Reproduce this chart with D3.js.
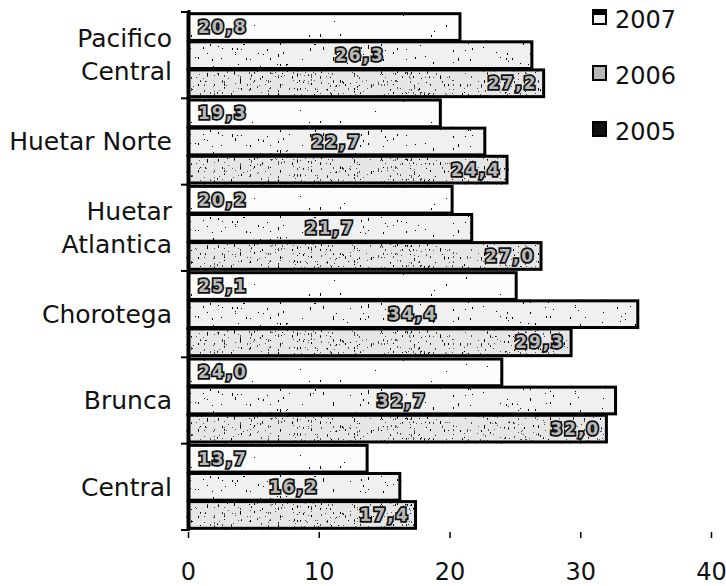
<!DOCTYPE html>
<html>
<head>
<meta charset="utf-8">
<script src="https://cdn.jsdelivr.net/npm/d3@7"></script>
<style>
  body { margin: 0; background: #fff; }
  svg { display: block; font-family: "DejaVu Sans", sans-serif; }
</style>
</head>
<body>
<div class="container"></div>
<script>
// data
const regions = ['Pacifico Central', 'Huetar Norte', 'Huetar Atlantica', 'Chorotega', 'Brunca', 'Central'];
const regionLines = [['Pacifico', 'Central'], ['Huetar Norte'], ['Huetar', 'Atlantica'], ['Chorotega'], ['Brunca'], ['Central']];
const years = ['2007', '2006', '2005'];
const values2007 = [20.8, 19.3, 20.2, 25.1, 24.0, 13.7];
const values2006 = [26.3, 22.7, 21.7, 34.4, 32.7, 16.2];
const values2005 = [27.2, 24.4, 27.0, 29.3, 32.0, 17.4];
const xTicks = [0, 10, 20, 30, 40];

const series = { '2007': values2007, '2006': values2006, '2005': values2005 };

const W = 726, H = 586;
const plotTop = 12, plotBottom = 530;

const svg = d3.select('.container')
              .append('svg')
              .attr('width', W)
              .attr('height', H);

const defs = svg.append('defs');

// scanned look: sparse black specks inside each bar
const grain = { '2007': ['0.55 0.18', '0 0 0 0 0 0 0 0 0 0 0 0 0 1'],
                '2006': ['0.6 0.2', '0 0 0 0 0 0 0 0 0 0 0 0 1 1'],
                '2005': ['0.7 0.25', '0 0 0 0 0 0 0 0 0 0.9 1 1'] };
const fills = { '2007': '#fcfcfc', '2006': '#f0f0f0', '2005': '#e6e6e6' };

years.forEach((y, i) => {
  const f = defs.append('filter')
                .attr('id', 'grain' + y)
                .attr('x', '-5%').attr('y', '-20%')
                .attr('width', '110%').attr('height', '140%');
  f.append('feTurbulence')
   .attr('type', 'fractalNoise')
   .attr('baseFrequency', grain[y][0])
   .attr('numOctaves', 2)
   .attr('seed', 3 + i * 7)
   .attr('result', 'n');
  f.append('feColorMatrix')
   .attr('in', 'n')
   .attr('type', 'matrix')
   .attr('values', '0 0 0 0 0  0 0 0 0 0  0 0 0 0 0  1.6 0 0 0 -0.35')
   .attr('result', 'a');
  f.append('feComponentTransfer')
   .attr('in', 'a')
   .attr('result', 's')
   .append('feFuncA')
   .attr('type', 'discrete')
   .attr('tableValues', grain[y][1]);
  f.append('feComposite')
   .attr('in', 's')
   .attr('in2', 'SourceGraphic')
   .attr('operator', 'in')
   .attr('result', 'c');
  const m = f.append('feMerge');
  m.append('feMergeNode').attr('in', 'SourceGraphic');
  m.append('feMergeNode').attr('in', 'c');
});

//Scales
const xScale = d3.scaleLinear()
                 .domain([0, 40])
                 .range([188, 711]);

const yScale = d3.scaleBand()
                 .domain(regions)
                 .range([plotTop, plotBottom])
                 .padding(0);

const ySub = d3.scaleBand()
               .domain(years)
               .range([0, yScale.bandwidth()])
               .paddingInner(0.05)
               .paddingOuter(0.06);

//Bars
const groups = svg.append('g')
                  .selectAll('g')
                  .data(regions)
                  .enter()
                  .append('g')
                  .attr('transform', d => `translate(0,${yScale(d)})`);

const cells = groups.selectAll('g')
                    .data((d, i) => years.map(y => ({ year: y, value: series[y][i] })))
                    .enter()
                    .append('g');

cells.append('rect')
     .attr('x', xScale(0))
     .attr('y', d => ySub(d.year))
     .attr('width', d => xScale(d.value) - xScale(0))
     .attr('height', ySub.bandwidth())
     .attr('fill', d => fills[d.year])
     .attr('stroke', '#000')
     .attr('stroke-width', 3)
     .attr('filter', d => `url(#grain${d.year})`);

//Value labels: 2007 at start, 2006 in the middle, 2005 at the end
const fmt = v => d3.format('.1f')(v).replace('.', ',');
cells.append('text')
     .attr('x', d => d.year === '2007' ? xScale(0) + 10
                   : d.year === '2006' ? (xScale(0) + xScale(d.value)) / 2
                   : xScale(d.value) - 6)
     .attr('y', d => ySub(d.year) + ySub.bandwidth() / 2)
     .attr('dy', '0.36em')
     .attr('text-anchor', d => d.year === '2007' ? 'start' : d.year === '2006' ? 'middle' : 'end')
     .attr('font-size', 17)
     .attr('font-weight', 'bold')
     .attr('letter-spacing', 2)
     .attr('fill', '#b8b8b8')
     .attr('stroke', '#111')
     .attr('stroke-width', 3.5)
     .attr('paint-order', 'stroke')
     .text(d => fmt(d.value));

//Left axis
svg.append('line')
   .attr('x1', 189).attr('x2', 189)
   .attr('y1', plotTop - 2).attr('y2', plotBottom)
   .attr('stroke', '#000')
   .attr('stroke-width', 3);

svg.append('g')
   .selectAll('line')
   .data(regions.concat(['end']))
   .enter()
   .append('line')
   .attr('x1', 181).attr('x2', 190)
   .attr('y1', d => d === 'end' ? plotBottom : yScale(d))
   .attr('y2', d => d === 'end' ? plotBottom : yScale(d))
   .attr('stroke', '#000')
   .attr('stroke-width', 2);

//Category labels
const catLabels = svg.append('g')
                     .selectAll('text')
                     .data(regions)
                     .enter()
                     .append('text')
                     .attr('x', 172)
                     .attr('y', d => yScale(d) + yScale.bandwidth() / 2)
                     .attr('text-anchor', 'end')
                     .attr('font-size', 25)
                     .attr('fill', '#111');

catLabels.each(function(d, i) {
  const lines = regionLines[i];
  const t = d3.select(this);
  lines.forEach((l, j) => {
    t.append('tspan')
     .attr('x', 172)
     .attr('dy', j === 0 ? (lines.length === 1 ? '0.35em' : '-0.32em') : '1.32em')
     .text(l);
  });
});

//Bottom axis: ticks and labels only
const xAxis = d3.axisBottom(xScale)
                .tickValues(xTicks)
                .tickSize(6)
                .tickPadding(25)
                .tickFormat(d3.format('d'));

const gx = svg.append('g')
              .attr('transform', `translate(0,${plotBottom + 2})`)
              .call(xAxis);
gx.select('.domain').remove();
gx.selectAll('line').attr('stroke', '#000').attr('stroke-width', 1.5);
gx.selectAll('text')
  .attr('font-size', 24)
  .attr('font-family', '"DejaVu Sans", sans-serif')
  .attr('fill', '#111');

//Legend
const legendFill = { '2007': '#f4f4f4', '2006': '#b8b8b8', '2005': '#111' };
const legend = svg.append('g')
                  .selectAll('g')
                  .data(years)
                  .enter()
                  .append('g')
                  .attr('transform', (d, i) => `translate(593,${10 + i * 56})`);

legend.append('rect')
      .attr('width', 13)
      .attr('height', 14)
      .attr('fill', d => legendFill[d])
      .attr('stroke', '#000')
      .attr('stroke-width', 2);

legend.filter(d => d === '2007')
      .append('rect')
      .attr('x', 1).attr('y', 1)
      .attr('width', 11).attr('height', 4)
      .attr('fill', '#000');

legend.append('text')
      .attr('x', 22)
      .attr('y', 18)
      .attr('font-size', 24)
      .attr('fill', '#111')
      .text(d => d);
</script>
</body>
</html>
